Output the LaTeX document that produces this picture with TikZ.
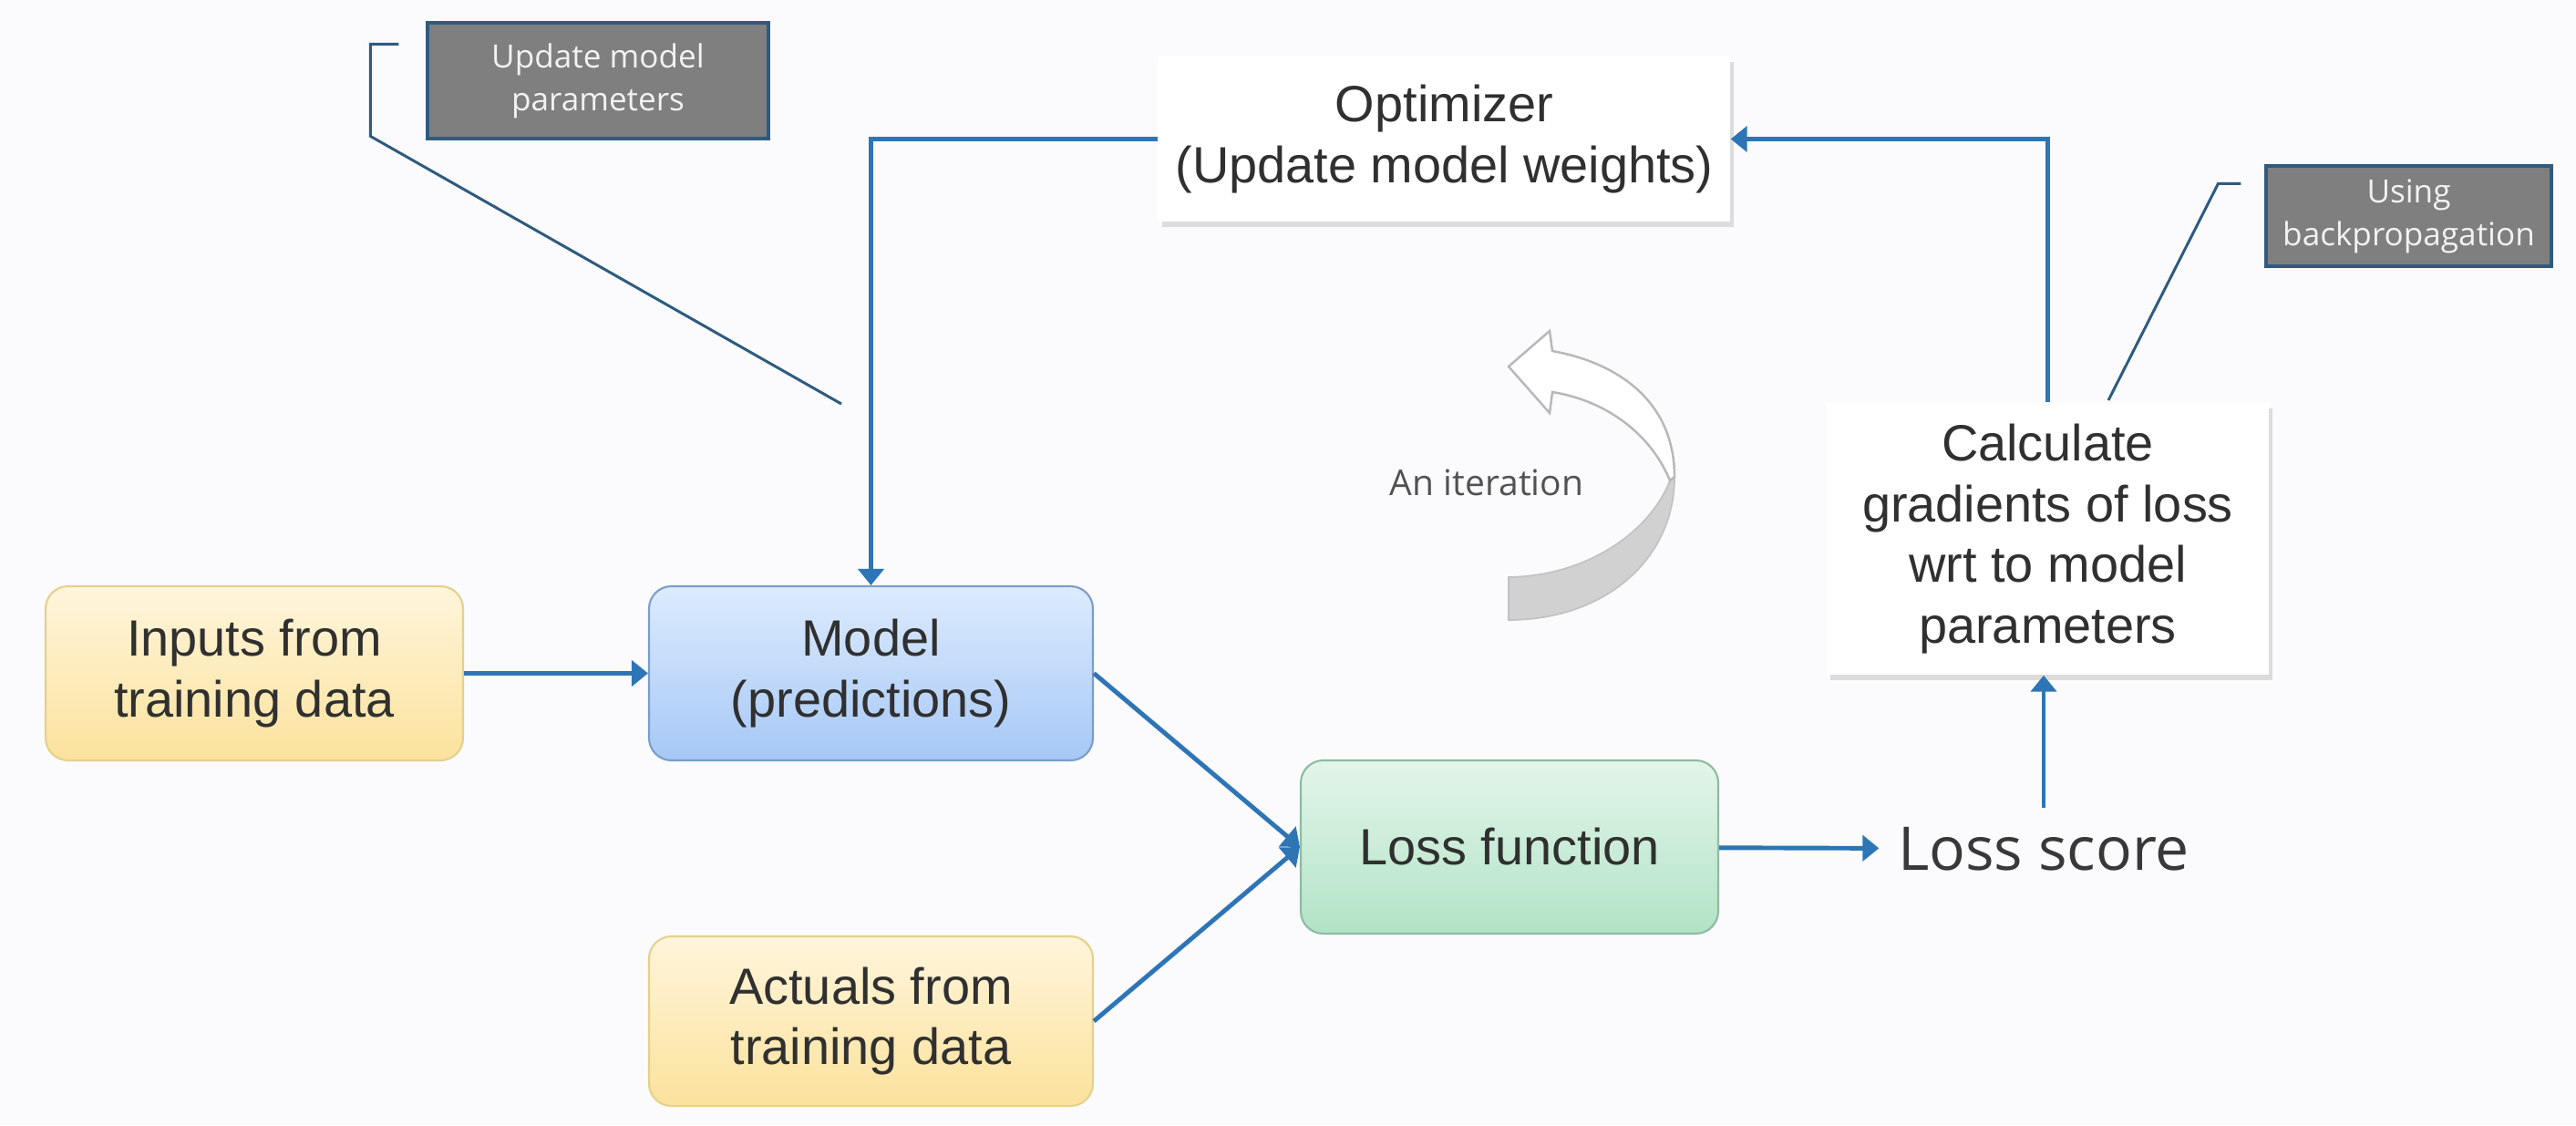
\documentclass[tikz,border=0pt]{standalone}
\usepackage{fontspec}
\setmainfont{Liberation Sans}
\newfontfamily\callfont{Open Sans}
\usepackage{tikz}
\usetikzlibrary{positioning, arrows.meta, shadows}
\definecolor{FlowBlue}{HTML}{2E75B6}
\definecolor{CallGray}{HTML}{7F7F7F}
\definecolor{CallEdge}{HTML}{2E5B7E}
\definecolor{TextDark}{HTML}{303030}
\definecolor{PageBg}{HTML}{FBFBFD}
\definecolor{DataTop}{HTML}{FFF5DC}
\definecolor{DataBot}{HTML}{FBE29C}
\definecolor{DataEdge}{HTML}{E5D08C}
\definecolor{ModelTop}{HTML}{DDEBFD}
\definecolor{ModelBot}{HTML}{A6C8F6}
\definecolor{ModelEdge}{HTML}{7B9DCB}
\definecolor{LossTop}{HTML}{E3F5EA}
\definecolor{LossBot}{HTML}{B2E3C6}
\definecolor{LossEdge}{HTML}{8EBBA1}

\begin{document}
\begin{tikzpicture}[
            box/.style={rectangle, rounded corners=7pt, align=center,
                        font=\fontsize{15.9}{18.9}\selectfont, text=TextDark,
                        line width=0.6pt},
            plain/.style={rectangle, fill=white, align=center,
                        font=\fontsize{15.9}{18.9}\selectfont, text=TextDark,
                        drop shadow={shadow xshift=0.4mm, shadow yshift=-0.6mm, opacity=0.25}},
            callout/.style={rectangle, fill=CallGray, draw=CallEdge, line width=0.9pt,
                        align=center, text=white!95!black,
                        font=\callfont\fontsize{10}{13.4}\selectfont},
            arr/.style={-{Triangle[length=0.18cm, width=0.28cm]}, line width=1.4pt, FlowBlue},
            callline/.style={line width=0.85pt, CallEdge}
          ]
          \useasboundingbox (0,0) rectangle (28.26,12.34);
          \fill[PageBg] (0,0) rectangle (28.26,12.34);

          % Data and model
          \node[box, top color=DataTop, bottom color=DataBot, draw=DataEdge,
                minimum width=4.58cm, minimum height=1.91cm]
                (inputs) at (2.79, 4.955) {Inputs from\\training data};
          \node[box, top color=ModelTop, bottom color=ModelBot, draw=ModelEdge,
                minimum width=4.87cm, minimum height=1.91cm]
                (model) at (9.555, 4.955) {Model\\(predictions)};
          \node[box, top color=DataTop, bottom color=DataBot, draw=DataEdge,
                minimum width=4.87cm, minimum height=1.86cm]
                (actuals) at (9.555, 1.14) {Actuals from\\training data};
          \node[box, top color=LossTop, bottom color=LossBot, draw=LossEdge,
                minimum width=4.58cm, minimum height=1.90cm]
                (loss) at (16.56, 3.05) {Loss function};
          \node[text=black!78, inner sep=0.2cm,
                font=\callfont\fontsize{18.8}{22}\selectfont]
                (score) at (22.42, 3.03) {Loss score};

          % Update step
          \node[plain, minimum width=4.85cm, minimum height=2.98cm]
                (calc) at (22.465, 6.43) {Calculate\\gradients of loss\\wrt to model\\parameters};
          \node[plain, minimum width=6.27cm, minimum height=1.81cm]
                (opt) at (15.845, 10.815) {Optimizer\\(Update model weights)};

          \draw[arr] (inputs) -- (model);
          \draw[arr] (model.east) -- (loss.west);
          \draw[arr] (actuals.east) -- (loss.west);
          \draw[arr] (loss) -- (score);
          \draw[arr] (score.north) -- (score.north |- calc.south);
          \draw[arr] (calc.north) |- (opt.east);
          \draw[arr] (opt.west) -| (model.north);

          % Callouts
          \node[callout, minimum width=3.74cm, minimum height=1.27cm]
                (upd) at (6.56, 11.455) {Update model\\parameters};
          \node[callout, minimum width=3.13cm, minimum height=1.10cm]
                (bprop) at (26.425, 9.97) {Using\\backpropagation};
          \coordinate (updtip) at (9.23, 7.91);
          \coordinate (bproptip) at (23.13, 7.95);
          \draw[callline] ([xshift=-0.3cm, yshift=-0.25cm]upd.north west)
                -- ++(-0.31,0) -- ++(0,-1.01) -- (updtip);
          \draw[callline] ([xshift=-0.26cm, yshift=-0.21cm]bprop.north west)
                -- ++(-0.25,0) -- (bproptip);

          % Iteration arrow
          \fill[black!18, draw=black!24, line width=0.5pt]
                (18.32,7.07) .. controls (18.1,6.5) and (17.4,6.02) .. (16.55,6.01)
                -- (16.55,5.54) .. controls (17.6,5.54) and (18.37,6.2) .. (18.37,7.11) -- cycle;
          \filldraw[fill=white, draw=black!28, line width=0.7pt]
                (17.03,8.04) -- (17.00,7.81) -- (16.55,8.32) -- (17.00,8.71) -- (17.03,8.49)
                .. controls (17.8,8.35) and (18.37,7.9) .. (18.37,7.11)
                -- (18.32,7.07) .. controls (18.1,7.6) and (17.6,7.95) .. (17.03,8.04) -- cycle;
          \node[text=black!68, font=\callfont\fontsize{11.1}{13}\selectfont]
                (iter) at (16.31, 7.05) {An iteration};
        \end{tikzpicture}
\end{document}
